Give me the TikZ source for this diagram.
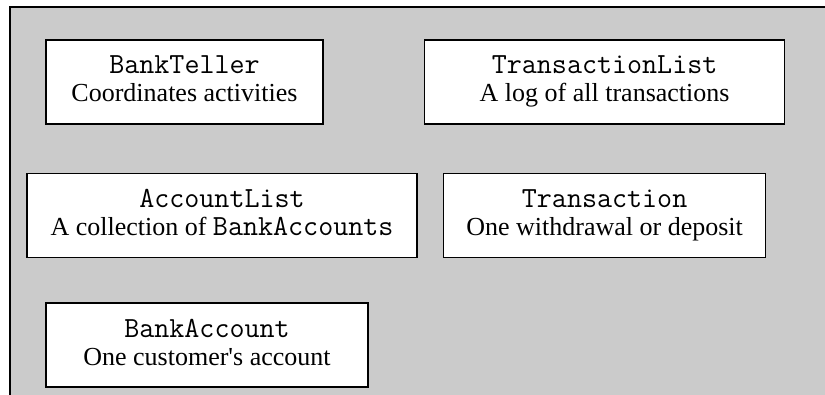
\documentclass[tikz,border=0pt]{standalone}
\usepackage{fontspec}
\setmainfont{Liberation Serif}
\usepackage{tikz}
\usetikzlibrary{positioning}

\definecolor{panelgray}{RGB}{203,203,203}
% class names in a wider typewriter face
\newcommand{\cname}[1]{{\ttfamily\fontsize{14.6}{14}\selectfont #1}}
\newcommand{\cdesc}[1]{#1\rule[-3pt]{0pt}{0pt}}

\begin{document}
\begin{tikzpicture}[
    node distance = 24pt,
    cls/.style = {draw, fill=white, line width=0.8pt, align=center,
                minimum height=42pt, inner sep=0pt,
                font=\fontsize{13}{14}\selectfont}
                    ]

\useasboundingbox (0,0) rectangle (412.5pt,-197.5pt);
% grey panel, open at the bottom and right
\fill[panelgray] (5pt,-3.5pt) rectangle (412.5pt,-197.5pt);
\draw[line width=0.8pt] (5pt,-197.5pt) |- (412.5pt,-3.5pt);

\node (n1) [cls, minimum width=138.5pt] at (92.25pt,-41pt)
    {\cname{BankTeller}\\ \cdesc{Coordinates activities}};
\node (n2) [cls, minimum width=180pt, right=50pt of n1]
    {\cname{TransactionList}\\ \cdesc{A log of all transactions}};
\node (n3) [cls, minimum width=161pt, below=of n2]
    {\cname{Transaction}\\ \cdesc{One withdrawal or deposit}};
\node (n4) [cls, minimum width=195pt, left=12.5pt of n3]
    {\cname{AccountList}\\ \cdesc{A collection of \cname{BankAccounts}}};
\node (n5) [cls, minimum width=161pt] at (103.5pt,-172.5pt)
    {\cname{BankAccount}\\ \cdesc{One customer\textquotesingle s account}};

%\draw[->] (n1) -- (n4);
%\draw[->] (n4) -- (n5);

\end{tikzpicture}
\end{document}
